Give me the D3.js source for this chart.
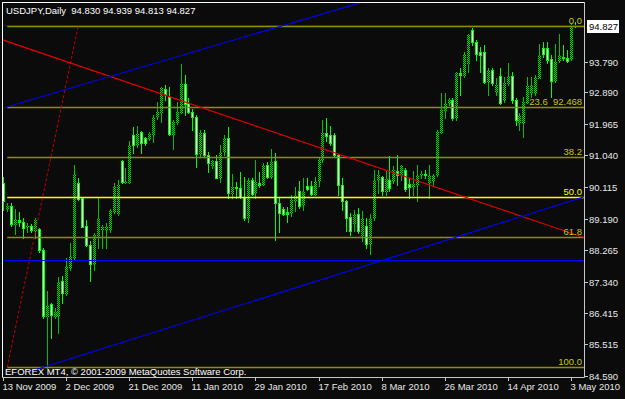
<!DOCTYPE html>
<html><head><meta charset="utf-8">
<script src="https://cdn.jsdelivr.net/npm/d3@7/dist/d3.min.js"></script>
<style>body{margin:0;background:#0b0b0b;}svg{display:block}text{font-family:"Liberation Sans",Arial,sans-serif;}</style>
</head><body><svg id="c" width="625" height="399"></svg>
<script>
// ---- data (USDJPY daily OHLC) ----
const opens=[90.22,89.47,89.57,89.02,89.15,89.10,88.93,88.98,88.83,88.89,88.27,86.32,86.69,86.32,86.32,87.35,86.98,87.74,88.03,90.22,89.78,88.98,88.42,87.85,88.71,88.88,88.86,88.86,89.39,89.34,90.87,90.25,90.27,91.65,91.36,91.73,91.54,91.54,91.68,92.17,92.32,93.00,92.75,91.68,92.02,92.32,93.14,92.59,92.32,92.17,91.07,91.71,91.05,90.76,90.87,90.37,91.15,91.54,89.93,90.12,90.09,89.83,89.22,90.32,89.93,90.22,90.19,90.76,90.42,90.87,89.64,89.47,89.37,89.34,89.69,89.99,89.60,90.13,90.13,89.91,90.28,90.91,91.69,91.64,91.64,91.06,90.18,89.70,89.23,89.06,89.33,88.72,88.97,88.43,89.21,90.33,90.40,89.99,90.33,90.28,90.59,90.48,90.62,90.20,90.13,90.18,90.46,90.50,90.26,90.28,90.46,91.74,92.37,92.57,92.67,92.13,93.45,93.40,93.74,94.71,94.37,94.08,94.08,93.20,93.54,92.91,93.38,92.67,93.15,93.38,92.67,91.99,91.99,92.62,92.86,92.86,93.32,94.18,94.18,93.88,93.22,93.84,93.93,93.90,93.86,94.830];
const highs=[90.42,89.64,89.64,89.47,89.39,89.20,89.05,89.02,89.20,88.91,88.34,87.06,86.71,86.57,87.49,87.52,88.03,88.47,90.76,90.37,89.83,89.15,88.52,88.76,89.78,89.00,89.05,89.47,90.22,90.32,90.90,90.66,91.46,91.88,91.91,91.75,91.58,91.73,92.22,92.61,93.05,93.11,93.05,92.07,92.61,93.73,93.39,92.71,92.41,92.22,91.78,91.78,91.15,90.90,91.05,91.34,91.63,91.88,90.51,90.27,90.56,90.42,90.37,90.37,90.90,90.56,90.81,90.85,91.24,91.10,89.83,89.54,89.54,89.88,90.12,90.28,90.38,90.38,90.28,90.40,90.96,92.08,92.13,91.89,91.69,91.08,90.38,89.72,89.35,89.45,89.50,89.40,89.21,89.31,90.62,90.62,90.43,90.62,91.01,90.72,91.06,90.77,90.67,90.38,90.57,90.77,90.57,90.62,90.77,90.49,91.79,92.86,92.86,92.72,92.72,93.49,93.59,94.08,94.61,94.76,94.42,94.23,94.27,93.59,93.59,93.30,93.59,93.35,93.74,93.49,92.72,92.28,92.76,93.35,93.35,93.40,94.32,94.37,94.37,93.98,94.32,94.61,94.27,94.13,94.91,94.939];
const lows=[89.44,89.41,88.98,88.73,88.98,88.63,88.81,88.81,88.63,88.22,86.28,84.82,85.69,86.28,85.84,86.71,86.96,87.69,88.01,89.73,88.93,88.40,87.35,87.69,88.32,88.32,88.32,88.81,89.34,89.30,90.22,90.22,90.22,91.10,91.29,91.10,91.34,91.49,91.44,92.12,92.02,92.66,91.63,91.24,91.97,92.27,92.22,92.27,91.78,90.71,91.03,91.03,90.56,90.66,90.37,90.27,91.05,89.78,89.78,89.78,89.78,89.15,89.10,89.88,89.78,90.12,90.17,90.37,90.37,88.57,88.81,89.30,89.10,89.25,89.40,89.50,89.45,90.04,89.89,89.87,90.13,90.86,91.45,91.35,91.01,89.89,89.45,88.82,88.72,88.82,88.77,88.53,88.33,88.14,89.16,89.94,89.89,89.89,89.99,90.23,90.18,90.33,89.99,89.79,89.89,89.71,90.38,90.38,89.79,90.13,90.43,91.70,92.13,92.52,92.08,92.08,92.81,93.35,93.49,94.29,93.84,93.49,93.15,92.81,93.11,92.81,92.54,92.62,93.11,92.57,91.94,91.79,91.57,92.57,92.76,92.81,93.30,93.93,93.74,92.76,93.18,93.79,93.84,93.79,93.84,94.813];
const closes=[89.69,89.57,89.02,89.18,89.10,88.91,88.98,88.84,89.16,88.27,86.32,86.67,86.35,86.44,87.33,87.01,87.79,88.08,90.51,89.76,88.95,88.42,87.85,88.71,89.20,88.93,88.95,89.44,90.15,90.17,90.27,90.29,91.36,91.34,91.68,91.39,91.39,91.68,92.17,92.32,93.02,92.85,91.68,92.02,92.32,93.14,92.56,92.32,92.17,91.07,91.71,91.05,90.83,90.87,90.39,91.15,91.54,89.93,90.12,90.08,89.83,89.22,90.32,89.90,90.27,90.17,90.76,90.42,90.87,89.64,89.34,89.32,89.32,89.73,89.88,89.55,89.99,90.07,89.91,90.30,90.91,91.69,91.60,91.40,91.06,90.18,89.70,89.21,88.82,89.31,88.82,89.21,88.43,89.21,90.33,90.48,89.99,90.36,90.09,90.62,90.48,90.72,90.07,90.11,90.20,90.48,90.51,90.48,90.46,90.46,91.74,92.37,92.57,92.67,92.13,93.45,93.40,94.00,94.57,94.37,94.00,93.98,93.20,93.54,93.15,93.11,92.57,93.15,93.38,92.67,92.08,92.23,92.62,93.06,93.11,93.35,93.98,94.00,93.84,93.22,93.79,93.98,93.90,93.81,94.83,94.827];
const dateLabels=["13 Nov 2009","2 Dec 2009","21 Dec 2009","11 Jan 2010","29 Jan 2010","17 Feb 2010","8 Mar 2010","26 Mar 2010","14 Apr 2010","3 May 2010"];
const dateLabelBars=[0,16,32,48,64,80,96,112,128,144];
const priceTicks=[93.790,92.890,91.965,91.040,90.115,89.190,88.265,87.340,86.415,85.515,84.590];
const lastPrice=94.827;
const titleText="USDJPY,Daily  94.830 94.939 94.813 94.827";
const copyrightText="EFOREX MT4, \u00A9 2001-2009 MetaQuotes Software Corp.";
// Fibonacci retracement (anchor bar index, price)
const fibFrom=[1,84.83], fibTo=[19,94.827];
const fibLevels=[0,23.6,38.2,50,61.8,100];
const fibLabels=["0.0","23.6  92.468","38.2","50.0","61.8","100.0"];
// trend lines [barIndex, price]
const redTrend=[[0,94.42],[147.2,88.64]];
const blueTrendUp=[[-0.4,92.42],[45.2,93.97]];
const blueTrendLow=[[6.3,84.69],[147.2,89.82]];
const blueLevels=[94.87,87.98];

// ---- layout ----
const W=625,H=399;
const P={l:2,t:2,r:584,b:377};
const svg=d3.select('#c');
const x=d3.scaleLinear().domain([0,144]).range([3.3,570.7]);
const y=d3.scaleLinear().domain([84.59,92.89]).range([375.5,92.3]);
const bg='#0b0b0b';
svg.append('rect').attr('width',W).attr('height',H).attr('fill',bg);
const defs=svg.append('defs');
defs.append('clipPath').attr('id','clip').append('rect').attr('x',P.l+1).attr('y',P.t+1).attr('width',P.r-P.l-1).attr('height',P.b-P.t-1);
const pat=defs.append('pattern').attr('id','hatch').attr('patternUnits','userSpaceOnUse').attr('width',2).attr('height',2);
pat.append('rect').attr('width',2).attr('height',2).attr('fill','#063006');
pat.append('rect').attr('width',1).attr('height',1).attr('fill','#00d800');
pat.append('rect').attr('x',1).attr('y',1).attr('width',1).attr('height',1).attr('fill','#00d800');

const bars=opens.map((o,i)=>({i,o,h:highs[i],l:lows[i],c:closes[i]}));
const px=i=>Math.round(x(i));
const py=v=>Math.round(y(v));
const g=svg.append('g').attr('clip-path','url(#clip)');
// wicks
g.selectAll('line.wick').data(bars).join('line').attr('class','wick')
 .attr('x1',d=>px(d.i)+0.5).attr('x2',d=>px(d.i)+0.5)
 .attr('y1',d=>py(d.h)).attr('y2',d=>py(d.l)+1)
 .attr('stroke',d=>d.c>=d.o?'#00c000':'#00ff00').attr('stroke-width',1);
// bodies
g.selectAll('rect.body').data(bars).join('rect').attr('class','body')
 .attr('x',d=>px(d.i)-1).attr('width',3)
 .attr('y',d=>py(Math.max(d.o,d.c)))
 .attr('height',d=>Math.max(1,py(Math.min(d.o,d.c))-py(Math.max(d.o,d.c))+1))
 .attr('fill',d=>d.c>=d.o?'url(#hatch)':'#00ff00');
g.selectAll('rect.inner').data(bars.filter(d=>d.c<d.o && py(d.c)-py(d.o)>2)).join('rect').attr('class','inner')
 .attr('x',d=>px(d.i)).attr('width',1)
 .attr('y',d=>py(d.o)+1).attr('height',d=>py(d.c)-py(d.o)-1)
 .attr('fill','#f4fff4');

function lineThrough(p1,p2,i0,i1){
  const s=(p2[1]-p1[1])/(p2[0]-p1[0]);
  return [[i0,p1[1]+s*(i0-p1[0])],[i1,p1[1]+s*(i1-p1[0])]];
}
const iMax=x.invert(P.r), iMin=x.invert(P.l);
function drawSeg(seg,color,dash,w){
  g.append('line').attr('x1',x(seg[0][0])).attr('y1',y(seg[0][1]))
   .attr('x2',x(seg[1][0])).attr('y2',y(seg[1][1]))
   .attr('stroke',color).attr('stroke-width',w||1).attr('stroke-dasharray',dash||null);
}
// horizontal blue lines
blueLevels.forEach(v=>{
  g.append('line').attr('x1',P.l).attr('x2',P.r).attr('y1',py(v)+0.5).attr('y2',py(v)+0.5)
   .attr('stroke','#0000ff').attr('stroke-width',1.2);
});
// fibonacci levels
const fibRange=fibTo[1]-fibFrom[1];
fibLevels.forEach((lv,k)=>{
  const v=fibTo[1]-fibRange*lv/100;
  const yy=py(v);
  const bright=lv===50;
  const col=bright?'#ffff00':'#8e8e00';
  g.append('line').attr('x1',x(fibFrom[0])).attr('x2',P.r).attr('y1',yy+0.5).attr('y2',yy+0.5)
   .attr('stroke',col).attr('stroke-width',bright?1.3:1.6);
  svg.append('text').attr('x',P.r-2).attr('y',yy-2).attr('text-anchor','end')
   .attr('font-size',9.5).attr('fill',bright?'#ffff00':'#c8c800').style('white-space','pre').text(fibLabels[k]);
});
// fib diagonal (dotted red)
drawSeg([fibFrom,fibTo],'#c00000','3,2');
// trend lines
drawSeg(lineThrough(redTrend[0],redTrend[1],iMin,iMax),'#e00000',null,1.2);
drawSeg(lineThrough(blueTrendUp[0],blueTrendUp[1],blueTrendUp[0][0],iMax),'#0000ff',null,1.1);
drawSeg(lineThrough(blueTrendLow[0],blueTrendLow[1],blueTrendLow[0][0],iMax),'#0000ff',null,1.1);

// frame
const frameCol='#c8c8c8';
svg.append('path').attr('d',`M${P.l+0.5},${P.b+0.5}V${P.t+0.5}H${P.r+0.5}V${P.b+0.5}Z`)
 .attr('fill','none').attr('stroke',frameCol).attr('stroke-width',1);
svg.append('line').attr('x1',P.l+0.5).attr('x2',P.r+0.5).attr('y1',P.t+0.5).attr('y2',P.t+0.5).attr('stroke','#ffffff');
svg.append('line').attr('x1',P.l+0.5).attr('x2',P.l+0.5).attr('y1',P.t).attr('y2',P.b).attr('stroke','#ffffff');

// price axis
const yAx=svg.append('g');
priceTicks.forEach(v=>{
  const yy=py(v);
  yAx.append('line').attr('x1',P.r+1).attr('x2',P.r+4).attr('y1',yy+0.5).attr('y2',yy+0.5).attr('stroke',frameCol);
  yAx.append('text').attr('x',P.r+5).attr('y',yy+3.5).attr('font-size',9.5).attr('fill','#e8e8e8').text(d3.format('.3f')(v));
});
// current price box
const lp=py(lastPrice);
svg.append('rect').attr('x',P.r+3).attr('y',lp-6).attr('width',32).attr('height',13).attr('fill','#ffffff');
svg.append('text').attr('x',P.r+5).attr('y',lp+4).attr('font-size',9.5).attr('fill','#000').text(d3.format('.3f')(lastPrice));

// date axis
dateLabelBars.forEach((b,k)=>{
  const xx=px(b)+0.5;
  svg.append('line').attr('x1',xx).attr('x2',xx).attr('y1',P.b).attr('y2',P.b+4).attr('stroke',frameCol);
  svg.append('text').attr('x',xx-1).attr('y',390).attr('font-size',9.5).attr('fill','#e8e8e8').text(dateLabels[k]);
});

// texts
svg.append('text').attr('x',6).attr('y',14).attr('font-size',9.5).attr('fill','#ffffff').style('white-space','pre').text(titleText);
svg.append('text').attr('x',5).attr('y',375).attr('font-size',9.5).attr('fill','#ffffff').text(copyrightText);
</script>
</body></html>
